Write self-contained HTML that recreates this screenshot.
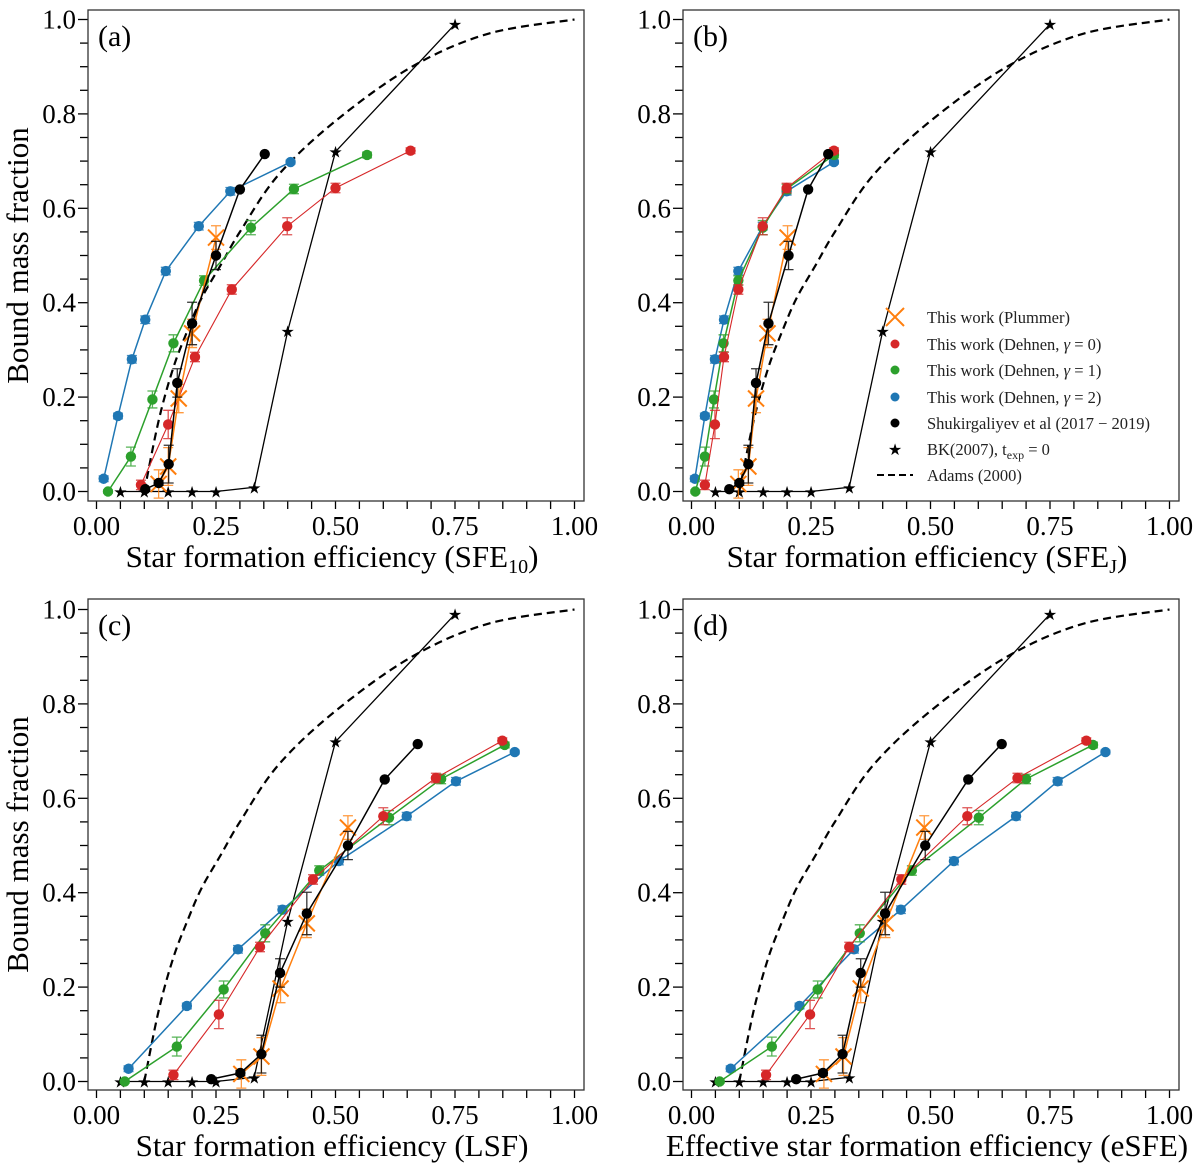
<!DOCTYPE html>
<html><head><meta charset="utf-8"><style>
html,body{margin:0;padding:0;background:#fff;}
svg{display:block;font-family:"Liberation Serif",serif;}
</style></head><body>
<svg id="fig" width="1200" height="1175" viewBox="0 0 1200 1175" xmlns="http://www.w3.org/2000/svg"></svg>
<script>
// ---- shared y data ----
const yBlue=[0.027,0.16,0.28,0.364,0.467,0.562,0.636,0.698];
const yGreen=[0,0.074,0.195,0.314,0.447,0.559,0.641,0.713];
const yRed=[0.014,0.142,0.285,0.428,0.562,0.643,0.722];
const yOrange=[0.016,0.053,0.197,0.335,0.538];
const yBlack=[0.005,0.018,0.058,0.23,0.356,0.5,0.64,0.715];
const errBlue=[0.006,0.006,0.008,0.008,0.008,0.008,0.008,0.004];
const errGreen=[0.003,0.02,0.018,0.018,0.01,0.015,0.01,0.006];
const errRed=[0.01,0.03,0.01,0.01,0.018,0.01,0.006];
const errOrange=[0.03,0.04,0.03,0.03,0.025];
const errBlack=[0,0.005,0.04,0.03,0.045,0.03,0,0];
const xStar=[0.05,0.1,0.15,0.2,0.25,0.33,0.4,0.5,0.75];
const yStar=[0,0,0,0,0,0.009,0.34,0.72,0.99];
const xAdams=[0.1,0.13,0.16,0.19,0.22,0.26,0.3,0.38,0.5,0.66,0.82,1.0];
const yAdams=[0,0.15,0.26,0.34,0.41,0.48,0.55,0.67,0.785,0.9,0.97,1.0];
// ---- per-panel x data ----
const aBlueX=[0.015,0.045,0.074,0.102,0.145,0.214,0.28,0.406];
const aGreenX=[0.024,0.072,0.117,0.161,0.225,0.323,0.413,0.566];
const aRedX=[0.093,0.15,0.206,0.283,0.399,0.5,0.657];
const aOrangeX=[0.13,0.15,0.172,0.2,0.25];
const aBlackX=[0.102,0.13,0.151,0.169,0.2,0.25,0.3,0.352];
const bBlueX=[0.007,0.028,0.049,0.068,0.098,0.149,0.199,0.298];
const bGreenX=[0.008,0.028,0.047,0.067,0.098,0.149,0.199,0.298];
const bRedX=[0.028,0.049,0.068,0.098,0.149,0.199,0.298];
const bOrangeX=[0.098,0.119,0.135,0.159,0.201];
const bBlackX=[0.079,0.1,0.119,0.135,0.161,0.203,0.244,0.286];
const cBlueX=[0.067,0.189,0.296,0.389,0.507,0.649,0.752,0.875];
const cGreenX=[0.059,0.168,0.266,0.353,0.466,0.612,0.721,0.854];
const cRedX=[0.161,0.256,0.342,0.453,0.6,0.71,0.849];
const cOrangeX=[0.303,0.345,0.385,0.44,0.526];
const cBlackX=[0.24,0.301,0.345,0.384,0.44,0.526,0.603,0.672];
const dBlueX=[0.082,0.226,0.34,0.438,0.549,0.679,0.766,0.866];
const dGreenX=[0.059,0.168,0.264,0.352,0.461,0.601,0.7,0.84];
const dRedX=[0.156,0.248,0.33,0.439,0.577,0.682,0.826];
const dOrangeX=[0.277,0.318,0.354,0.406,0.487];
const dBlackX=[0.219,0.275,0.316,0.354,0.405,0.489,0.579,0.649];
const xTicks=["0.00","0.25","0.50","0.75","1.00"];
const yTicks=["0.0","0.2","0.4","0.6","0.8","1.0"];

const NS="http://www.w3.org/2000/svg";
const svg=document.getElementById('fig');
function el(tag,attrs,parent){const e=document.createElementNS(NS,tag);for(const k in attrs)e.setAttribute(k,attrs[k]);(parent||svg).appendChild(e);return e;}
const C={blue:"#1f77b4",green:"#2ca02c",red:"#d62728",orange:"#ff7f0e",black:"#000"};
function smoothPath(pts){
  let d=`M${pts[0][0]},${pts[0][1]}`;
  for(let i=0;i<pts.length-1;i++){
    const p0=pts[Math.max(0,i-1)],p1=pts[i],p2=pts[i+1],p3=pts[Math.min(pts.length-1,i+2)];
    const c1x=p1[0]+(p2[0]-p0[0])/6,c1y=p1[1]+(p2[1]-p0[1])/6;
    const c2x=p2[0]-(p3[0]-p1[0])/6,c2y=p2[1]-(p3[1]-p1[1])/6;
    d+=`C${c1x},${c1y} ${c2x},${c2y} ${p2[0]},${p2[1]}`;
  }
  return d;
}

function panel(p){
  const g=el('g',{});
  
  
  const X=v=>p.x0+v*478, Y=v=>p.y0-v*472;
  for(let i=0;i<=20;i++){const v=i*0.05;
    const t=el('line',{x1:X(v),x2:X(v),y1:p.bot,y2:p.bot+8,stroke:"#000","stroke-width":1.3},g);
    
    const ty=el('line',{x1:p.left-(i%4==0?10:8),x2:p.left,y1:Y(v),y2:Y(v),stroke:"#000","stroke-width":1.3},g);
    }
  xTicks.forEach((s,i)=>{const t=el('text',{x:X(i*0.25),y:p.bot+34,"font-size":27,"text-anchor":"middle"},g);t.textContent=s;
    });
  yTicks.forEach((s,i)=>{const t=el('text',{x:p.left-12,y:Y(i*0.2)+9,"font-size":27,"text-anchor":"end"},g);t.textContent=s;
    });
  const xt=el('text',{x:(p.left+p.right)/2-4,y:p.bot+66,"font-size":31,"text-anchor":"middle"},g);
  xt.innerHTML=p.xtitle;
  
  if(p.ytitle){const yt=el('text',{x:0,y:0,"font-size":31,"text-anchor":"middle",transform:`translate(28,${(p.top+p.bot)/2}) rotate(-90)`},g);
    yt.textContent="Bound mass fraction";}
  const lab=el('text',{x:p.left+10,y:p.top+36,"font-size":30},g);lab.textContent="("+p.id+")";
  
  const ad=el('path',{d:smoothPath(xAdams.map((v,i)=>[X(v),Y(yAdams[i])])),fill:"none",stroke:"#000","stroke-width":2.2,"stroke-dasharray":"8,5"},g);
  
  function series(name,xs,ys,errs,col,mk,w){
    const sg=el('g',{},g);
    
    el('polyline',{points:xs.map((v,i)=>X(v)+","+Y(ys[i])).join(" "),fill:"none",stroke:col,"stroke-width":w},sg);
    xs.forEach((v,i)=>{const cx=X(v),cy=Y(ys[i]);
      if(errs&&errs[i]>0){const e=errs[i]*472;
        el('path',{d:`M${cx},${cy-e}V${cy+e}M${cx-5},${cy-e}h10M${cx-5},${cy+e}h10`,stroke:col,"stroke-width":1.3,fill:"none","stroke-opacity":0.8},sg);}
      if(mk==='c'){const m=el('circle',{cx,cy,r:5.2,fill:col},sg);
        }
      else if(mk==='x'){const m=el('path',{d:`M${cx-8},${cy-8}L${cx+8},${cy+8}M${cx-8},${cy+8}L${cx+8},${cy-8}`,stroke:col,"stroke-width":2},sg);
        }
      else {const m=el('text',{x:cx,y:cy+6,"font-size":16,"text-anchor":"middle",fill:col,"font-family":"DejaVu Sans"},sg);m.textContent="★";
        }
    });
  }
  series('bk2007',xStar,yStar,null,C.black,'s',1.3);
  series('dehnen-gamma2',p.blue,yBlue,errBlue,C.blue,'c',1.5);
  series('dehnen-gamma1',p.green,yGreen,errGreen,C.green,'c',1.5);
  series('dehnen-gamma0',p.red,yRed,errRed,C.red,'c',1.1);
  series('plummer',p.orange,yOrange,errOrange,C.orange,'x',1.5);
  series('shukirgaliyev',p.black,yBlack,errBlack,C.black,'c',1.5);
  const box=el('rect',{x:p.left,y:p.top,width:p.right-p.left,height:p.bot-p.top,fill:"none",stroke:"#333","stroke-width":1.3},g);
  
}
panel({id:'a',left:88,right:584,top:10,bot:501,x0:96.5,y0:491.5,ytitle:true,xtitle:'Star formation efficiency (SFE<tspan font-size="20" dy="6">10</tspan><tspan dy="-6">)</tspan>',blue:aBlueX,green:aGreenX,red:aRedX,orange:aOrangeX,black:aBlackX});
panel({id:'b',left:683,right:1179,top:10,bot:501,x0:691.5,y0:491.5,ytitle:false,xtitle:'Star formation efficiency (SFE<tspan font-size="20" dy="6">J</tspan><tspan dy="-6">)</tspan>',blue:bBlueX,green:bGreenX,red:bRedX,orange:bOrangeX,black:bBlackX});
panel({id:'c',left:88,right:584,top:599,bot:1090,x0:96.5,y0:1081.5,ytitle:true,xtitle:'Star formation efficiency (LSF)',blue:cBlueX,green:cGreenX,red:cRedX,orange:cOrangeX,black:cBlackX});
panel({id:'d',left:683,right:1179,top:599,bot:1090,x0:691.5,y0:1081.5,ytitle:false,xtitle:'Effective star formation efficiency (eSFE)',blue:dBlueX,green:dGreenX,red:dRedX,orange:dOrangeX,black:dBlackX});

const leg=el('g',{});

const legLabels=['This work (Plummer)','This work (Dehnen,  <tspan font-style="italic">γ</tspan> = 0)','This work (Dehnen,  <tspan font-style="italic">γ</tspan> = 1)','This work (Dehnen,  <tspan font-style="italic">γ</tspan> = 2)','Shukirgaliyev et al (2017 − 2019)','BK(2007), t<tspan font-size="12" dy="4">exp</tspan><tspan dy="-4"> = 0</tspan>','Adams (2000)'];
const legRows=[317,344,370,397,423,449,475];
legLabels.forEach((s,i)=>{
  const y=legRows[i],mx=895;
  const e=el('g',{},leg);
  
  if(i===0)el('path',{d:`M${mx-9},${y-9}L${mx+9},${y+9}M${mx-9},${y+9}L${mx+9},${y-9}`,stroke:C.orange,"stroke-width":2},e);
  else if(i<5)el('circle',{cx:mx,cy:y,r:4.5,fill:[null,C.red,C.green,C.blue,C.black][i]},e);
  else if(i===5){const t=el('text',{x:mx,y:y+6,"font-size":16,"text-anchor":"middle","font-family":"DejaVu Sans"},e);t.textContent="★";}
  else el('line',{x1:877,x2:913,y1:y,y2:y,stroke:"#000","stroke-width":2,"stroke-dasharray":"7,4"},e);
  const t=el('text',{x:927,y:y+6,"font-size":16.5,fill:"#222"},e);t.innerHTML=s;
});
</script>
</body></html>
